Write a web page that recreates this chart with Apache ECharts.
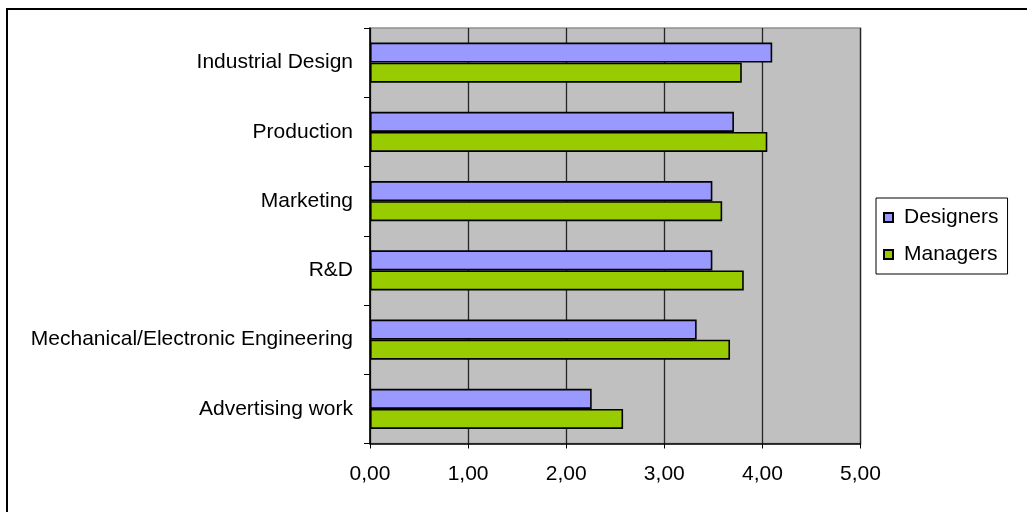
<!DOCTYPE html>
<html>
<head>
<meta charset="utf-8">
<script src="https://cdn.jsdelivr.net/npm/echarts@6/dist/echarts.min.js"></script>
<style>
  html, body { margin: 0; padding: 0; background: #fff; }
  #chart { width: 1027px; height: 512px; }
</style>
</head>
<body>
<div id="chart"></div>
<script>
// Average scores per business area, rated by designers and managers
const categories = [
  'Industrial Design',
  'Production',
  'Marketing',
  'R&D',
  'Mechanical/Electronic Engineering',
  'Advertising work'
];
const designers = [4.10, 3.71, 3.49, 3.49, 3.33, 2.26];
const managers  = [3.79, 4.05, 3.59, 3.81, 3.67, 2.58];
const seriesNames = ['Designers', 'Managers'];

const FONT = '"Liberation Sans", Arial, sans-serif';
const chart = echarts.init(document.getElementById('chart'), null, { renderer: 'canvas' });

const barStyle = (color) => ({ color: color, borderColor: '#000', borderWidth: 1.6 });

chart.setOption({
  animation: false,
  backgroundColor: '#fff',
  textStyle: { fontFamily: FONT, color: '#000' },
  graphic: [{
    type: 'rect',
    shape: { x: 7, y: 9, width: 1100, height: 600 },
    style: { fill: 'none', stroke: '#000', lineWidth: 2 },
    z: 100
  }],
  grid: {
    left: 370, right: 166.5, top: 28, bottom: 68.5,
    show: true, backgroundColor: '#C0C0C0',
    borderColor: '#909090', borderWidth: 1.5
  },
  legend: {
    orient: 'vertical',
    left: 876, top: 198,
    padding: [9, 9, 9, 7],
    backgroundColor: '#fff',
    borderColor: '#000', borderWidth: 1,
    itemWidth: 9, itemHeight: 9, itemGap: 16,
    icon: 'rect',
    data: seriesNames,
    textStyle: { fontFamily: FONT, fontSize: 21, color: '#000', padding: [0, 0, 0, 6] }
  },
  xAxis: {
    type: 'value',
    min: 0, max: 5, interval: 1,
    axisLine: { show: true, lineStyle: { color: '#000', width: 1.5 } },
    axisTick: { show: true, length: 5, lineStyle: { color: '#000' } },
    splitLine: { show: true, lineStyle: { color: '#262626', width: 1.3 } },
    axisLabel: {
      margin: 20, fontSize: 21, color: '#000', fontFamily: FONT,
      formatter: (v) => v.toFixed(2).replace('.', ',')
    }
  },
  yAxis: {
    type: 'category',
    data: categories,
    inverse: true,
    axisLine: { show: true, lineStyle: { color: '#000', width: 1.5 } },
    axisTick: { show: true, length: 6, lineStyle: { color: '#000' } },
    axisLabel: { margin: 17, fontSize: 21, color: '#000', fontFamily: FONT }
  },
  series: [
    {
      name: seriesNames[0], type: 'bar', data: designers,
      barGap: '0%', barCategoryGap: '42%',
      itemStyle: barStyle('#9999FF')
    },
    {
      name: seriesNames[1], type: 'bar', data: managers,
      barGap: '0%', barCategoryGap: '42%',
      itemStyle: barStyle('#99CC00')
    }
  ]
});
</script>
</body>
</html>
